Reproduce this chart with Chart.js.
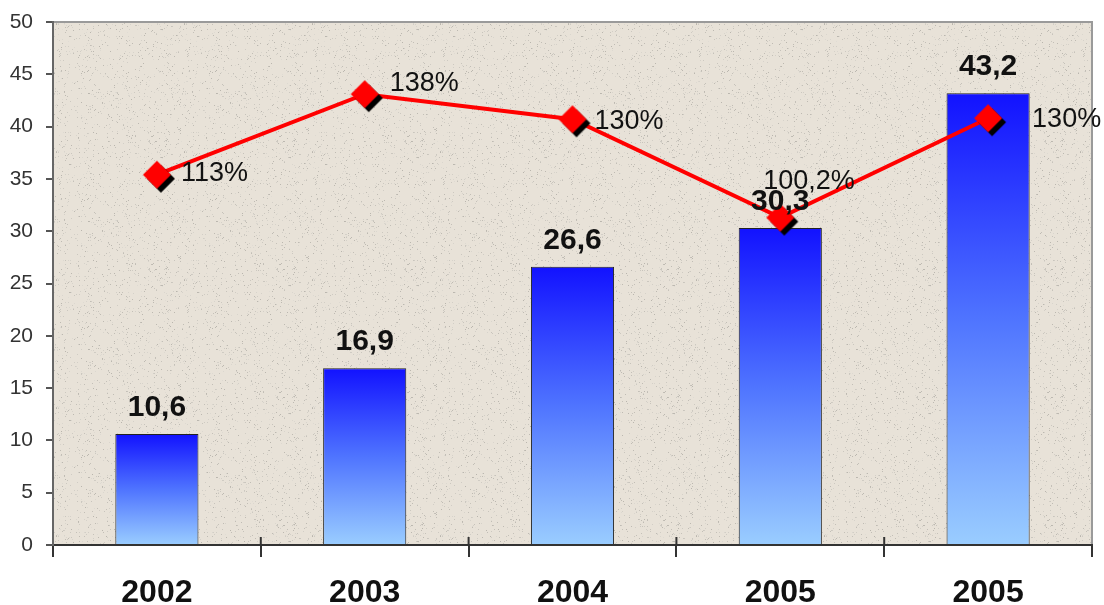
<!DOCTYPE html>
<html>
<head>
<meta charset="utf-8">
<script src="https://cdn.jsdelivr.net/npm/chart.js@4/dist/chart.umd.min.js"></script>
<style>
  html, body { margin: 0; padding: 0; background: #fff; }
  #wrap { width: 1104px; height: 605px; }
</style>
</head>
<body>
<div id="wrap"><canvas id="myChart" width="1104" height="605"></canvas></div>
<script>
// Categories and values
var years = ['2002', '2003', '2004', '2005', '2005'];
var barValues = [10.6, 16.9, 26.6, 30.3, 43.2];
var lineValues = [35.4, 43.1, 40.7, 31.3, 40.8];
var growthLabels = ['113%', '138%', '130%', '100,2%', '130%'];
var yTicks = [0, 5, 10, 15, 20, 25, 30, 35, 40, 45, 50];

// Where each percent label sits relative to its marker (dx, dy)
var growthOffsets = [[24, -1], [25, -11], [22, 2], [-17, -36], [44, 1]];

var FONT = '"Liberation Sans", Arial, sans-serif';

// Red diamond marker with a small black drop shadow
function diamondImage() {
    var c = document.createElement('canvas');
    c.width = 38;
    c.height = 38;
    var g = c.getContext('2d');
    function diamond(cx, cy, r, color) {
        g.beginPath();
        g.moveTo(cx, cy - r);
        g.lineTo(cx + r, cy);
        g.lineTo(cx, cy + r);
        g.lineTo(cx - r, cy);
        g.closePath();
        g.fillStyle = color;
        g.fill();
    }
    diamond(23, 23, 14, '#000');
    diamond(19, 19, 14, '#ff0000');
    return c;
}

// Fine speckled paper texture for the plot area (fixed pattern)
function paperPattern(ctx) {
    var c = document.createElement('canvas');
    c.width = 128;
    c.height = 128;
    var g = c.getContext('2d');
    g.fillStyle = '#e8e2d8';
    g.fillRect(0, 0, 128, 128);
    var seed = 7;
    function next() {
        seed = (seed * 1103515245 + 12345) % 2147483648;
        return seed / 2147483648;
    }
    for (var i = 0; i < 900; i++) {
        var x = Math.floor(next() * 128);
        var y = Math.floor(next() * 128);
        var shade = 185 + Math.floor(next() * 40);
        g.fillStyle = 'rgb(' + shade + ',' + (shade - 4) + ',' + (shade - 12) + ')';
        g.fillRect(x, y, 1, 1);
    }
    return ctx.createPattern(c, 'repeat');
}

// Vertical gradient per bar: dark blue on top, light blue at the base
function barGradient(context) {
    var chart = context.chart;
    if (!chart.chartArea) return '#3355ff';
    var y = chart.scales.y;
    var top = y.getPixelForValue(context.raw);
    var bottom = y.getPixelForValue(0);
    var g = chart.ctx.createLinearGradient(0, top, 0, bottom);
    g.addColorStop(0, '#1212ff');
    g.addColorStop(0.5, '#4f74ff');
    g.addColorStop(1, '#9acdff');
    return g;
}

// Plot area background and border
var backgroundPlugin = {
    id: 'plotBackground',
    beforeDraw: function(chart) {
        var ctx = chart.ctx;
        var a = chart.chartArea;
        ctx.save();
        ctx.fillStyle = '#ffffff';
        ctx.fillRect(0, 0, chart.width, chart.height);
        ctx.fillStyle = paperPattern(ctx);
        ctx.fillRect(a.left, a.top, a.right - a.left, a.bottom - a.top);
        ctx.strokeStyle = '#9a9a9a';
        ctx.lineWidth = 2;
        ctx.beginPath();
        ctx.moveTo(a.left, a.top);
        ctx.lineTo(a.right, a.top);
        ctx.lineTo(a.right, a.bottom);
        ctx.stroke();
        ctx.restore();
    },
    afterDraw: function(chart) {
        // the inner category ticks also poke a little above the axis
        var ctx = chart.ctx;
        var a = chart.chartArea;
        ctx.save();
        ctx.strokeStyle = '#333';
        ctx.lineWidth = 2;
        for (var i = 1; i < years.length; i++) {
            var x = a.left + (a.right - a.left) * i / years.length;
            ctx.beginPath();
            ctx.moveTo(x, a.bottom - 8);
            ctx.lineTo(x, a.bottom);
            ctx.stroke();
        }
        ctx.restore();
    }
};

// Value labels above bars and percent labels beside markers
var labelPlugin = {
    id: 'valueLabels',
    afterDatasetsDraw: function(chart) {
        var ctx = chart.ctx;
        var bars = chart.getDatasetMeta(0).data;
        var points = chart.getDatasetMeta(1).data;
        ctx.save();
        ctx.fillStyle = '#111';
        ctx.textAlign = 'center';
        ctx.textBaseline = 'alphabetic';
        ctx.font = 'bold 30px ' + FONT;
        bars.forEach(function(bar, i) {
            ctx.fillText(String(barValues[i]).replace('.', ','), bar.x, bar.y - 18);
        });
        ctx.textAlign = 'left';
        ctx.textBaseline = 'middle';
        ctx.font = '27px ' + FONT;
        points.forEach(function(p, i) {
            ctx.fillText(growthLabels[i], p.x + growthOffsets[i][0], p.y + growthOffsets[i][1]);
        });
        ctx.restore();
    }
};

var ctx = document.getElementById('myChart').getContext('2d');

var myChart = new Chart(ctx, {
    data: {
        labels: years,
        datasets: [
            {
                type: 'bar',
                data: barValues,
                backgroundColor: barGradient,
                borderColor: '#222',
                borderWidth: 1,
                borderSkipped: 'bottom',
                barPercentage: 0.4,
                categoryPercentage: 1.0,
                order: 1
            },
            {
                type: 'line',
                data: lineValues,
                borderColor: '#ff0000',
                borderWidth: 4,
                pointStyle: diamondImage(),
                pointRadius: 1,
                pointBorderWidth: 0,
                clip: false,
                tension: 0,
                fill: false,
                order: 0
            }
        ]
    },
    options: {
        responsive: false,
        animation: false,
        events: [],
        layout: {
            autoPadding: false,
            padding: { top: 22, right: 12, left: 0, bottom: 0 }
        },
        plugins: {
            legend: { display: false },
            tooltip: { enabled: false }
        },
        scales: {
            x: {
                offset: true,
                grid: {
                    offset: true,
                    drawOnChartArea: false,
                    tickLength: 12,
                    color: '#333',
                    lineWidth: 2
                },
                border: { color: '#333', width: 2 },
                ticks: {
                    color: '#111',
                    padding: 17,
                    font: { family: FONT, size: 32, weight: 'bold' }
                },
                afterFit: function(scale) {
                    scale.height = 60;
                    scale.paddingLeft = 0;
                    scale.paddingRight = 0;
                }
            },
            y: {
                min: 0,
                max: 50,
                afterBuildTicks: function(scale) {
                    scale.ticks = yTicks.map(function(v) { return { value: v }; });
                },
                grid: {
                    drawOnChartArea: false,
                    tickLength: 7,
                    color: '#555',
                    lineWidth: 2
                },
                border: { color: '#666', width: 2 },
                ticks: {
                    color: '#333',
                    padding: 13,
                    font: { family: FONT, size: 21 }
                },
                afterFit: function(scale) {
                    scale.width = 53;
                    scale.paddingTop = 0;
                    scale.paddingBottom = 0;
                }
            }
        }
    },
    plugins: [backgroundPlugin, labelPlugin]
});
</script>
</body>
</html>
